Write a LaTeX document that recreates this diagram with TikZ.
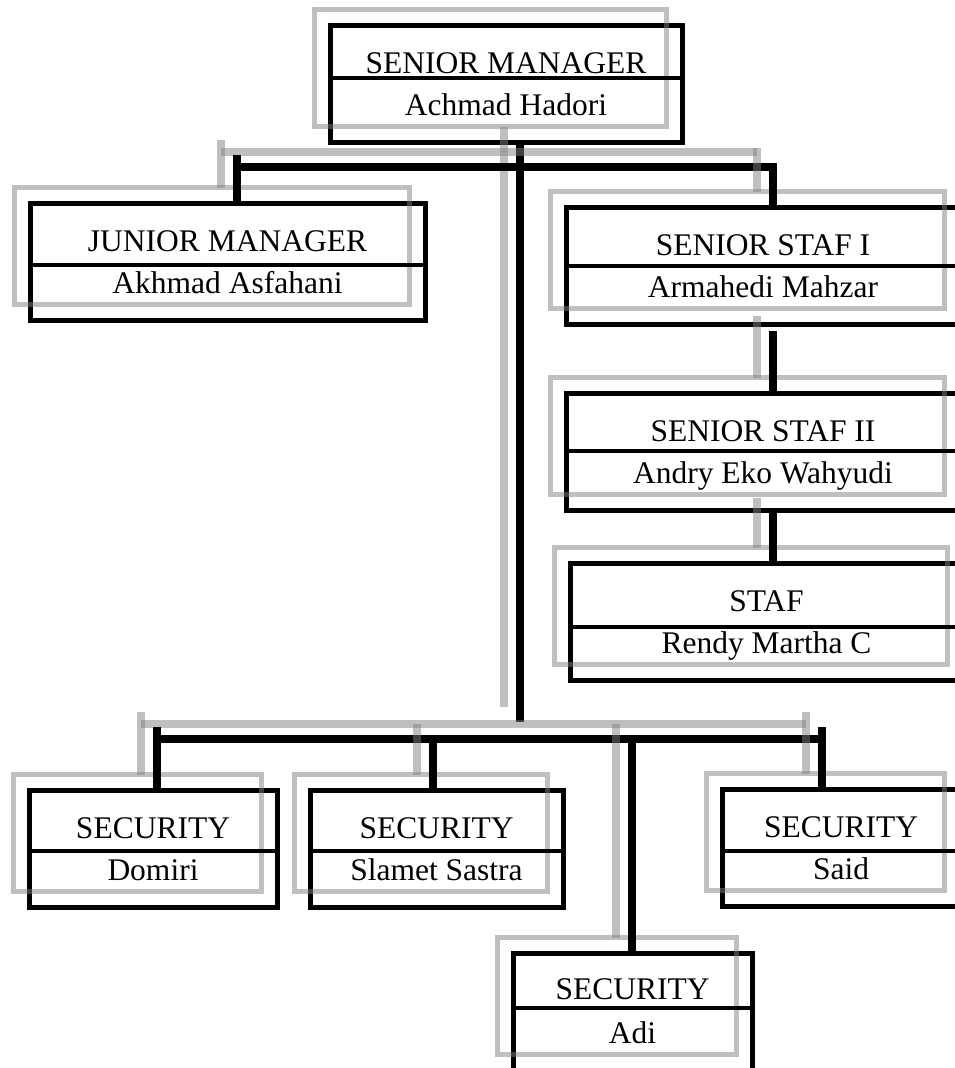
\documentclass[tikz,border=0pt]{standalone}
\usepackage{fontspec}
\setmainfont{Liberation Serif}

\tikzset{
  unit/.style={draw, line width=5pt, anchor=north west, inner sep=0pt, outer sep=0pt,
    minimum height=117pt,
    postaction={draw=gray, opacity=.5, line width=5pt, transform canvas={shift={(-16,-16)}}}},
  split/.style={line width=3.2pt},
  title/.style={anchor=base, inner sep=0pt, font=\fontsize{31.5}{36}\selectfont},
  link/.style={line width=8pt,
    postaction={draw=gray, opacity=.5, line width=7.5pt, transform canvas={shift={(-16,-15)}}}},
}

\begin{document}
\begin{tikzpicture}[x=1pt, y=-1pt]
    \clip (0, 0) rectangle (955, 1068);
    % boxes
    \node[unit, minimum width=352pt] (sm)   at (330, 25)  {};
    \node[unit, minimum width=395pt] (jm)   at (30, 203)  {};
    \node[unit, minimum width=394pt] (ss1)  at (566, 207) {};
    \node[unit, minimum width=394pt] (ss2)  at (566, 393) {};
    \node[unit, minimum width=393pt] (staf) at (570, 563) {};
    \node[unit, minimum width=248pt] (sec1) at (29, 790)  {};
    \node[unit, minimum width=253pt] (sec2) at (310, 790) {};
    \node[unit, minimum width=239pt] (sec3) at (513, 953) {};
    \node[unit, minimum width=238pt] (sec4) at (722, 789) {};
    \foreach \b/\d in {sm/53, jm/62, ss1/59, ss2/58, staf/64, sec1/61, sec2/61, sec3/55, sec4/62}
      \draw[split] ([yshift=-\d pt]\b.north west) -- ([yshift=-\d pt]\b.north east);
    % texts
    \node[title] (sm-t)   at ([yshift=-48pt]sm.north)   {SENIOR MANAGER};
    \node[title] (sm-n)   at ([yshift=-90pt]sm.north)   {Achmad Hadori};
    \node[title] (jm-t)   at ([yshift=-48pt]jm.north)   {JUNIOR MANAGER};
    \node[title] (jm-n)   at ([yshift=-90pt]jm.north)   {Akhmad Asfahani};
    \node[title] (ss1-t)  at ([yshift=-48pt]ss1.north)  {SENIOR STAF I};
    \node[title] (ss1-n)  at ([yshift=-90pt]ss1.north)  {Armahedi Mahzar};
    \node[title] (ss2-t)  at ([yshift=-48pt]ss2.north)  {SENIOR STAF II};
    \node[title] (ss2-n)  at ([yshift=-90pt]ss2.north)  {Andry Eko Wahyudi};
    \node[title] (staf-t) at ([yshift=-48pt]staf.north) {STAF};
    \node[title] (staf-n) at ([yshift=-90pt]staf.north) {Rendy Martha C};
    \node[title] (sec1-t) at ([yshift=-48pt]sec1.north) {SECURITY};
    \node[title] (sec1-n) at ([yshift=-90pt]sec1.north) {Domiri};
    \node[title] (sec2-t) at ([yshift=-48pt]sec2.north) {SECURITY};
    \node[title] (sec2-n) at ([yshift=-90pt]sec2.north) {Slamet Sastra};
    \node[title] (sec3-t) at ([yshift=-46pt]sec3.north) {SECURITY};
    \node[title] (sec3-n) at ([yshift=-90pt]sec3.north) {Adi};
    \node[title] (sec4-t) at ([yshift=-48pt]sec4.north) {SECURITY};
    \node[title] (sec4-n) at ([yshift=-90pt]sec4.north) {Said};
    % bus points
    \coordinate (trunk) at (520, 722);
    \coordinate (upL) at (237, 167);
    \coordinate (upR) at (773, 167);
    \coordinate (lowL) at (157, 739);
    \coordinate (lowB) at (433, 739);
    \coordinate (lowC) at (632, 739);
    \coordinate (lowR) at (822, 739);
    % connectors
    \draw[link] (sm.south -| trunk) -- (trunk);
    \draw[link] (upL) -- (upR);
    \draw[link] ([yshift=12pt]upL) -- (jm.north -| upL);
    \draw[link] ([yshift=4pt]upR) -- (ss1.north -| upR);
    \draw[link] ([yshift=-7pt]ss1.south -| upR) -- (ss2.north -| upR);
    \draw[link] ([yshift=-3pt]ss2.south -| upR) -- (staf.north -| upR);
    \draw[link] (lowL) -- (lowR);
    \draw[link] ([yshift=12pt]lowL) -- (sec1.north -| lowL);
    \draw[link] (lowB) -- (sec2.north -| lowB);
    \draw[link] (lowC) -- (sec3.north -| lowC);
    \draw[link] ([yshift=12pt]lowR) -- (sec4.north -| lowR);
\end{tikzpicture}
\end{document}
